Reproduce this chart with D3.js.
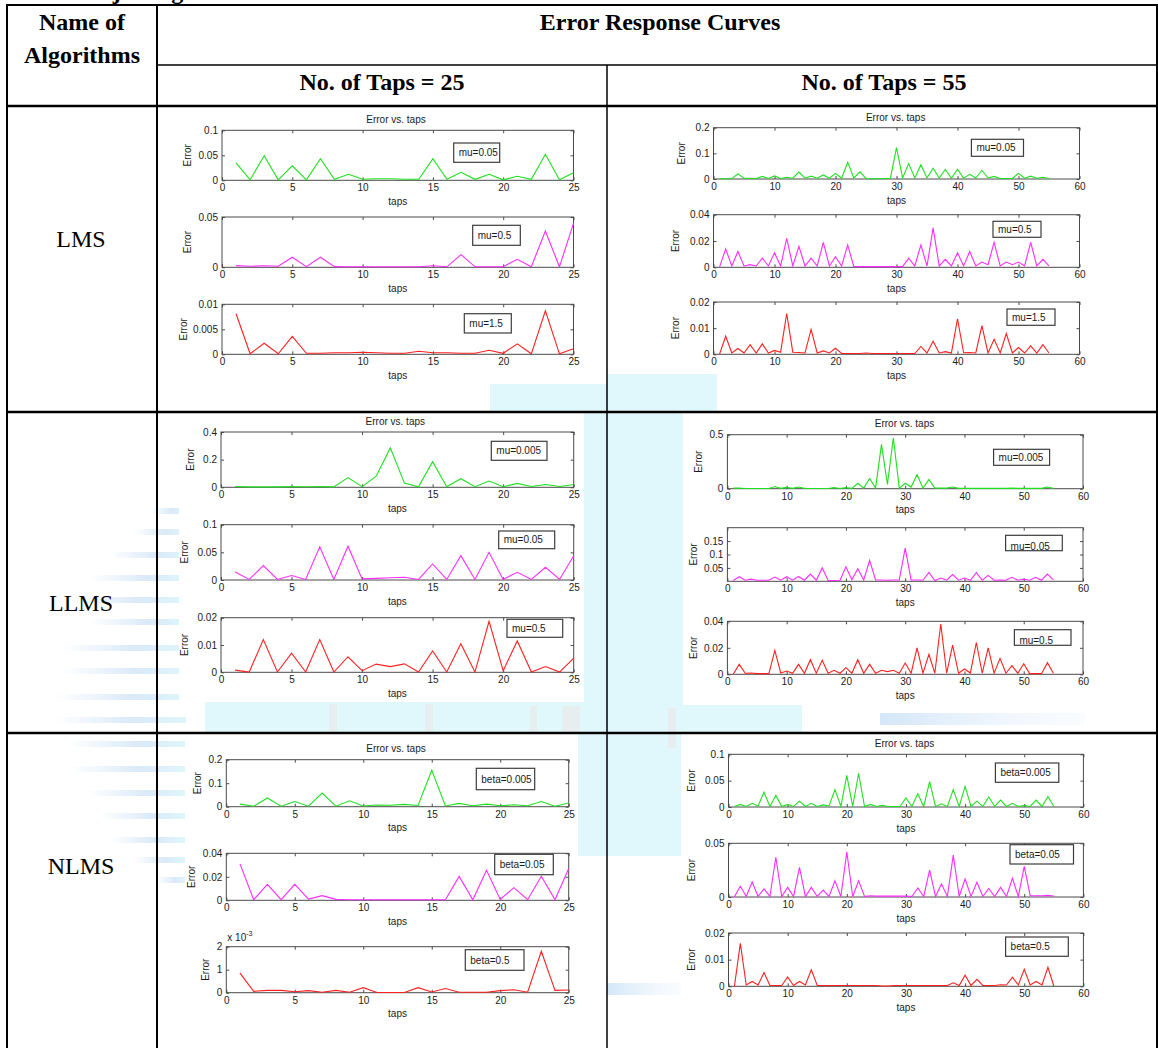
<!DOCTYPE html>
<html>
<head>
<meta charset="utf-8">
<script src="https://cdn.jsdelivr.net/npm/d3@7"></script>
<style>
  body { margin: 0; background: #fff; }
  .tbl { font-family: "Liberation Serif", "Times New Roman", serif; fill: #000; }
  .plt text { font-family: "Liberation Sans", Arial, sans-serif; font-size: 10px; fill: #1a1a1a; }
</style>
</head>
<body>
<svg id="page" width="1158" height="1048"></svg>
<script>
// ---- table text ----
var algorithms = ["LMS", "LLMS", "NLMS"];
var tapCounts = [25, 55];

// ---- legend labels ----
var muLabelsLMS = ["mu=0.05", "mu=0.5", "mu=1.5"];
var muLabelsLLMS = ["mu=0.005", "mu=0.05", "mu=0.5"];
var betaLabelsNLMS = ["beta=0.005", "beta=0.05", "beta=0.5"];

// ---- x axis ----
var xMax = [25, 60];
var xTicks25 = [0, 5, 10, 15, 20, 25];
var xTicks55 = [0, 10, 20, 30, 40, 50, 60];

// ---- y axis limits / ticks ----
var yMaxLMS25 = [0.1, 0.05, 0.01];
var yTicksLMS25 = [[0, 0.05, 0.1], [0, 0.05], [0, 0.005, 0.01]];
var yMaxLMS55 = [0.2, 0.04, 0.02];
var yTicksLMS55 = [[0, 0.1, 0.2], [0, 0.02, 0.04], [0, 0.01, 0.02]];
var yMaxLLMS25 = [0.4, 0.1, 0.02];
var yTicksLLMS25 = [[0, 0.2, 0.4], [0, 0.05, 0.1], [0, 0.01, 0.02]];
var yMaxLLMS55 = [0.5, 0.2, 0.04];
var yTicksLLMS55 = [[0, 0.5], [0.05, 0.1, 0.15], [0, 0.02, 0.04]];
var yMaxNLMS25 = [0.2, 0.04, 0.002];
var yTicksNLMS25 = [[0, 0.1, 0.2], [0, 0.02, 0.04], [0, 0.001, 0.002]];
var yMaxNLMS55 = [0.1, 0.05, 0.02];
var yTicksNLMS55 = [[0, 0.05, 0.1], [0, 0.05], [0, 0.01, 0.02]];

// ---- error per tap ----
var lms25_mu005 = [0.035,0.001,0.049,0.001,0.029,0.001,0.043,0.002,0.012,0.002,0.003,0.003,0.002,0.002,0.043,0.002,0.016,0.002,0.012,0.001,0.008,0.002,0.052,0.001,0.015];
var lms25_mu05 = [0.0017,0.001,0.0015,0.001,0.010,0.0007,0.010,0.0007,0.0005,0.0005,0.0005,0.0005,0.0005,0.0005,0.0015,0.0005,0.0126,0.0005,0.0005,0.0005,0.008,0.0005,0.036,0.0005,0.0437];
var lms25_mu15 = [0.0081,0.0001,0.0022,0.0001,0.0036,0.0002,0.0002,0.0003,0.0003,0.0004,0.0003,0.0002,0.0002,0.0006,0.0003,0.0003,0.0002,0.0002,0.0008,0.0002,0.0021,0.0001,0.0087,0.0001,0.0011];

var lms55_mu005 = [0.001,0.001,0.001,0.02,0.003,0.003,0.002,0.01,0.002,0.012,
  0.002,0.007,0.003,0.027,0.003,0.011,0.003,0.016,0.003,0.022,
  0.003,0.065,0.004,0.028,0.002,0.001,0.001,0.002,0.003,0.122,
  0.004,0.06,0.004,0.055,0.004,0.042,0.004,0.037,0.003,0.038,
  0.003,0.018,0.004,0.034,0.004,0.01,0.002,0.002,0.002,0.022,
  0.003,0.011,0.003,0.007,0.002];
var lms55_mu05 = [0.0003,0.014,0.001,0.012,0.001,0.002,0.001,0.007,0.001,0.011,
  0.001,0.022,0.001,0.016,0.001,0.007,0.001,0.019,0.001,0.008,
  0.001,0.017,0.0005,0.0005,0.0005,0.0005,0.0005,0.0005,0.0005,0.0005,
  0.0005,0.007,0.001,0.017,0.001,0.030,0.001,0.006,0.001,0.011,
  0.001,0.012,0.001,0.004,0.002,0.019,0.001,0.004,0.002,0.004,
  0.001,0.019,0.001,0.006,0.001];
var lms55_mu15 = [0.0001,0.0069,0.0005,0.0022,0.0005,0.0037,0.0005,0.004,0.0005,0.0015,
  0.0008,0.0156,0.0008,0.0007,0.0005,0.0095,0.0005,0.0013,0.0005,0.0023,
  0.0003,0.0003,0.0003,0.0003,0.0005,0.0003,0.0003,0.0003,0.0003,0.0003,
  0.0003,0.0003,0.0003,0.003,0.0005,0.005,0.0005,0.001,0.0005,0.0136,
  0.0006,0.0007,0.0005,0.011,0.0005,0.0057,0.0005,0.0079,0.0005,0.0026,
  0.0005,0.0032,0.0005,0.0037,0.0005];

var llms25_mu0005 = [0.006,0.003,0.003,0.003,0.005,0.004,0.006,0.003,0.07,0.005,0.08,0.285,0.03,0.004,0.185,0.004,0.062,0.004,0.045,0.004,0.028,0.006,0.02,0.006,0.02];
var llms25_mu005 = [0.0145,0.001,0.026,0.001,0.008,0.001,0.06,0.001,0.061,0.002,0.003,0.004,0.005,0.001,0.029,0.001,0.044,0.001,0.05,0.001,0.014,0.001,0.023,0.001,0.044];
var llms25_mu05 = [0.0008,0.0001,0.012,0.0001,0.007,0.0001,0.012,0.0001,0.0057,0.0006,0.003,0.0021,0.0031,0.0001,0.0078,0.0001,0.0105,0.0001,0.0187,0.0006,0.0115,0.0001,0.0021,0.0001,0.0052];

var llms55_mu0005 = [0.005,0.006,0.002,0.002,0.002,0.002,0.002,0.02,0.003,0.012,
  0.003,0.015,0.003,0.002,0.002,0.002,0.002,0.01,0.002,0.01,
  0.003,0.05,0.005,0.095,0.005,0.41,0.04,0.47,0.005,0.05,
  0.015,0.13,0.005,0.085,0.005,0.007,0.005,0.015,0.003,0.003,
  0.003,0.003,0.003,0.004,0.003,0.003,0.003,0.005,0.003,0.003,
  0.003,0.003,0.003,0.015,0.003];
var llms55_mu005 = [0.003,0.017,0.004,0.008,0.004,0.004,0.004,0.016,0.004,0.017,
  0.004,0.018,0.004,0.027,0.004,0.05,0.003,0.003,0.004,0.054,
  0.006,0.047,0.005,0.078,0.005,0.005,0.004,0.005,0.005,0.124,
  0.005,0.005,0.004,0.033,0.003,0.012,0.004,0.025,0.004,0.012,
  0.004,0.032,0.004,0.022,0.004,0.005,0.004,0.015,0.004,0.008,
  0.004,0.015,0.004,0.027,0.005];
var llms55_mu05 = [0.0002,0.0075,0.0008,0.001,0.0005,0.0005,0.0005,0.018,0.001,0.0025,
  0.0008,0.0075,0.0008,0.011,0.0008,0.0105,0.0008,0.003,0.0008,0.005,
  0.0008,0.011,0.0008,0.0075,0.0008,0.003,0.002,0.003,0.0008,0.0085,
  0.0008,0.02,0.0008,0.015,0.0008,0.038,0.0008,0.022,0.0008,0.004,
  0.001,0.024,0.0008,0.02,0.0008,0.012,0.0008,0.0065,0.0008,0.008,
  0.0005,0.0005,0.0005,0.0088,0.0008];

var nlms25_b0005 = [0.011,0.002,0.037,0.002,0.022,0.002,0.058,0.002,0.025,0.003,0.007,0.006,0.01,0.005,0.155,0.003,0.014,0.004,0.011,0.004,0.008,0.004,0.022,0.002,0.016];
var nlms25_b005 = [0.031,0.0005,0.0136,0.0005,0.0136,0.001,0.004,0.0008,0.0005,0.0005,0.0005,0.0005,0.0005,0.0005,0.0005,0.0005,0.0203,0.0005,0.0255,0.0008,0.0108,0.0005,0.0204,0.0005,0.027];
var nlms25_b05 = [0.00085,0.00006,0.0001,0.0001,0.00004,0.00009,0.00002,0.0001,0.00002,0.00022,0.00001,0.00001,0.00001,0.00022,0.00003,0.00018,0.00002,0.00002,0.00002,0.00009,0.00013,0.00002,0.0018,0.0001,0.00012];

var nlms55_b0005 = [0.001,0.005,0.001,0.007,0.002,0.028,0.001,0.022,0.001,0.005,
  0.001,0.011,0.001,0.007,0.001,0.004,0.002,0.033,0.001,0.06,
  0.001,0.064,0.001,0.005,0.001,0.003,0.001,0.001,0.001,0.017,
  0.001,0.025,0.001,0.048,0.001,0.006,0.001,0.033,0.001,0.039,
  0.001,0.011,0.001,0.019,0.001,0.013,0.001,0.007,0.001,0.003,
  0.001,0.013,0.001,0.02,0.001];
var nlms55_b005 = [0.0003,0.01,0.0005,0.014,0.0005,0.0075,0.0005,0.037,0.0005,0.009,
  0.0005,0.0276,0.0005,0.009,0.0005,0.0065,0.0005,0.015,0.0005,0.042,
  0.0005,0.015,0.0005,0.0012,0.0008,0.0008,0.0008,0.0008,0.0008,0.0008,
  0.0005,0.0084,0.0005,0.025,0.0005,0.012,0.0005,0.039,0.0005,0.0168,
  0.0005,0.0137,0.0005,0.008,0.0005,0.009,0.0005,0.0174,0.0005,0.0286,
  0.0012,0.0012,0.0012,0.0015,0.001];
var nlms55_b05 = [0,0.0161,0.0005,0.0018,0.0005,0.0052,0.0003,0.0003,0.0003,0.0035,
  0.0003,0.0018,0.0005,0.0062,0.0003,0.0003,0.0003,0.0003,0.0003,0.0003,
  0.0003,0.0003,0.0003,0.0003,0.0003,0.0001,0.0001,0.0003,0.0003,0.0003,
  0.0003,0.0003,0.0003,0.0003,0.0003,0.0003,0.0003,0.0013,0.0003,0.0042,
  0.0003,0.0026,0.0003,0.0003,0.0003,0.0006,0.0005,0.0034,0.0005,0.0064,
  0.0005,0.0018,0.0005,0.0071,0.0001];

var lineColors = ["#1fe01f", "#ff2cff", "#ff2020"];

// one entry per table cell: which data goes where
var cells = [
  {row: 0, col: 0, series: [lms25_mu005, lms25_mu05, lms25_mu15], labels: muLabelsLMS, yMax: yMaxLMS25, yTicks: yTicksLMS25},
  {row: 0, col: 1, series: [lms55_mu005, lms55_mu05, lms55_mu15], labels: muLabelsLMS, yMax: yMaxLMS55, yTicks: yTicksLMS55},
  {row: 1, col: 0, series: [llms25_mu0005, llms25_mu005, llms25_mu05], labels: muLabelsLLMS, yMax: yMaxLLMS25, yTicks: yTicksLLMS25},
  {row: 1, col: 1, series: [llms55_mu0005, llms55_mu005, llms55_mu05], labels: muLabelsLLMS, yMax: yMaxLLMS55, yTicks: yTicksLLMS55},
  {row: 2, col: 0, series: [nlms25_b0005, nlms25_b005, nlms25_b05], labels: betaLabelsNLMS, yMax: yMaxNLMS25, yTicks: yTicksNLMS25, exp3: true},
  {row: 2, col: 1, series: [nlms55_b0005, nlms55_b005, nlms55_b05], labels: betaLabelsNLMS, yMax: yMaxNLMS55, yTicks: yTicksNLMS55}
];

// figure geometry inside each cell (pixels)
var layout = [
  {title: [396, 119], fig: [160, 108, 430, 276], xr: [222, 573.5], plots: [
    {y: [130.3, 180.3], lg: [453.7, 143, 46, 19.3], ex: 187.7},
    {y: [217, 267.3], lg: [472.7, 225.3, 47.6, 20], ex: 187.7},
    {y: [304.3, 354.3], lg: [464.3, 313.7, 47, 19.3], ex: 183}]},
  {title: [895.7, 117], fig: [607, 108, 550, 266], xr: [713.5, 1079.5], plots: [
    {y: [127.7, 179], lg: [971.4, 139.3, 52.1, 17], ex: 681.6},
    {y: [214.7, 267.3], lg: [993, 221.3, 48, 16], ex: 675.7},
    {y: [302, 354.3], lg: [1007, 309, 48, 16.3], ex: 675.7}]},
  {title: [395.3, 421], fig: [179, 413, 405, 289], xr: [221, 573.7], plots: [
    {y: [432, 487.3], lg: [491.3, 441.3, 55.7, 19], ex: 190.3},
    {y: [524.7, 580], lg: [498.7, 531, 56, 17.7], ex: 184.3},
    {y: [617.7, 672.3], lg: [507, 619.3, 55.7, 18], ex: 184.3}]},
  {title: [904.5, 423], fig: [683, 413, 474, 292], xr: [727.4, 1083], plots: [
    {y: [434.7, 488.7], lg: [993.6, 449.3, 56, 16], ex: 698.5},
    {y: [527.7, 581.3], lg: [1005.6, 535.3, 56.7, 15.4], ex: 693, low: true},
    {y: [621.3, 674.3], lg: [1014.4, 629.7, 56.6, 15.6], ex: 693, low: true}]},
  {title: [396, 748.7], fig: [185, 734, 393, 314], xr: [226.3, 568.7], plots: [
    {y: [759.7, 806.7], lg: [476.3, 768.3, 58.4, 21.4], ex: 197},
    {y: [853.3, 900.3], lg: [494.7, 854.3, 58.6, 20.4], ex: 191.3},
    {y: [946.7, 992.7], lg: [465.3, 949.7, 58.7, 20.6], ex: 205.3}]},
  {title: [904.5, 743.7], fig: [681, 734, 476, 314], xr: [728.5, 1083.4], plots: [
    {y: [754.3, 807], lg: [995.4, 763, 63.4, 19.3], ex: 691.5},
    {y: [843.3, 897], lg: [1010, 844.7, 63.5, 19.3], ex: 691.5},
    {y: [933, 986.3], lg: [1005.6, 937, 62.7, 19.3], ex: 691.5}]}
];

var svg = d3.select("#page");

// ---- faint watermark behind the table ----
var defs = svg.append("defs");
var grad = defs.append("linearGradient").attr("id", "stripe").attr("x1", "0").attr("x2", "1");
grad.append("stop").attr("offset", "0").attr("stop-color", "#cfe3f6").attr("stop-opacity", 0);
grad.append("stop").attr("offset", "0.6").attr("stop-color", "#cfe3f6").attr("stop-opacity", 0.9);
grad.append("stop").attr("offset", "1").attr("stop-color", "#d9f5fb").attr("stop-opacity", 1);
var grad2 = defs.append("linearGradient").attr("id", "bar").attr("x1", "0").attr("x2", "1");
grad2.append("stop").attr("offset", "0").attr("stop-color", "#d4e6f8");
grad2.append("stop").attr("offset", "1").attr("stop-color", "#eef6fd").attr("stop-opacity", 0.3);

var wm = svg.append("g");
var stripes = [[508,150],[529,133],[552,110],[575,90],[597,70],[619,90],[645,62],[668,62],[694,55],[717,55],
               [741,67],[766,70],[790,87],[813,100],[837,110],[857,133],[877,157]];
stripes.forEach(function (s) {
    wm.append("rect").attr("x", s[1]).attr("y", s[0]).attr("width", 186 - s[1]).attr("height", 6)
        .attr("fill", "url(#stripe)").attr("opacity", 0.85);
});
var cyan = "#dbf7fb";
[[490, 384, 117, 28], [607, 374, 110, 38], [584, 413, 23, 290], [607, 413, 76, 292],
 [205, 702, 402, 31], [607, 705, 195, 28], [578, 734, 29, 122], [607, 734, 74, 122]].forEach(function (r) {
    wm.append("rect").attr("x", r[0]).attr("y", r[1]).attr("width", r[2]).attr("height", r[3])
        .attr("fill", cyan).attr("opacity", 0.85);
});
[[329, 704, 8, 29], [425, 704, 8, 29], [530, 706, 7, 27], [562, 706, 18, 27], [668, 708, 8, 40]].forEach(function (r) {
    wm.append("rect").attr("x", r[0]).attr("y", r[1]).attr("width", r[2]).attr("height", r[3])
        .attr("fill", "#e6eef0");
});
wm.append("rect").attr("x", 880).attr("y", 713).attr("width", 205).attr("height", 12).attr("fill", "url(#bar)");
wm.append("rect").attr("x", 607).attr("y", 983).attr("width", 76).attr("height", 12).attr("fill", "url(#bar)");

// white figure backgrounds
layout.forEach(function (L) {
    svg.append("rect").attr("x", L.fig[0]).attr("y", L.fig[1]).attr("width", L.fig[2]).attr("height", L.fig[3])
        .attr("fill", "#fff");
});

// ---- table text ----
var tbl = svg.append("g").attr("class", "tbl");
tbl.append("text").attr("x", 82).attr("y", -1).attr("font-size", 24).attr("font-weight", "bold").text("Adjusting");
tbl.append("text").attr("x", 82).attr("y", 30).attr("text-anchor", "middle").attr("font-size", 24).attr("font-weight", "bold").text("Name of");
tbl.append("text").attr("x", 82).attr("y", 63).attr("text-anchor", "middle").attr("font-size", 24).attr("font-weight", "bold").text("Algorithms");
tbl.append("text").attr("x", 660).attr("y", 30).attr("text-anchor", "middle").attr("font-size", 24).attr("font-weight", "bold").text("Error Response Curves");
var colCenters = [382, 884];
tapCounts.forEach(function (t, i) {
    tbl.append("text").attr("x", colCenters[i]).attr("y", 90).attr("text-anchor", "middle")
        .attr("font-size", 24).attr("font-weight", "bold").text("No. of Taps = " + t);
});
var rowCenters = [239, 603, 866];
algorithms.forEach(function (a, i) {
    tbl.append("text").attr("x", 81).attr("y", rowCenters[i] + 8).attr("text-anchor", "middle")
        .attr("font-size", 24).text(a);
});

// ---- the subplots ----
function fmtTick(v, scale) {
    return String(+(v / scale).toFixed(5));
}

function drawPlot(g, box, values, yMax, yTicks, xm, xTicks, color, label, lg, ex, low, scale) {
    var x0 = box.x0, x1 = box.x1, y0 = box.y0, y1 = box.y1;
    var x = d3.scaleLinear().domain([0, xm]).range([x0, x1]);
    var y = d3.scaleLinear().domain([0, yMax]).range([y1, y0]);

    var axisCol = "#4a4a4a";

    var bottom = g.append("g").attr("transform", "translate(0," + y1 + ")")
        .call(d3.axisBottom(x).tickValues(xTicks).tickSizeInner(-3).tickSizeOuter(0).tickPadding(4));
    var top = g.append("g").attr("transform", "translate(0," + y0 + ")")
        .call(d3.axisTop(x).tickValues(xTicks).tickSizeInner(-3).tickSizeOuter(0).tickFormat(""));
    var left = g.append("g").attr("transform", "translate(" + x0 + ",0)")
        .call(d3.axisLeft(y).tickValues(yTicks).tickSizeInner(-3).tickSizeOuter(0).tickPadding(4)
            .tickFormat(function (d) { return fmtTick(d, scale); }));
    var right = g.append("g").attr("transform", "translate(" + x1 + ",0)")
        .call(d3.axisRight(y).tickValues(yTicks).tickSizeInner(-3).tickSizeOuter(0).tickFormat(""));
    [bottom, top, left, right].forEach(function (a) {
        a.select(".domain").remove();
        a.selectAll("line").attr("stroke", axisCol);
        a.selectAll("text").attr("fill", "#1a1a1a").attr("font-family", null).attr("font-size", null);
    });

    g.append("rect").attr("x", x0).attr("y", y0).attr("width", x1 - x0).attr("height", y1 - y0)
        .attr("fill", "none").attr("stroke", axisCol).attr("stroke-width", 1);

    var line = d3.line()
        .x(function (d, i) { return x(i + 1); })
        .y(function (d) { return y(d); });
    g.append("path").datum(values).attr("d", line)
        .attr("fill", "none").attr("stroke", color).attr("stroke-width", 1.1).attr("stroke-linejoin", "miter");

    // legend
    g.append("rect").attr("x", lg[0]).attr("y", lg[1]).attr("width", lg[2]).attr("height", lg[3])
        .attr("fill", "#fff").attr("stroke", "#3c3c3c").attr("stroke-width", 1.2);
    g.append("text").attr("x", lg[0] + 5).attr("y", lg[1] + lg[3] / 2 + (low ? 6.5 : 3.6)).text(label);

    g.append("text").attr("transform", "translate(" + ex + "," + ((y0 + y1) / 2) + ") rotate(-90)")
        .attr("text-anchor", "middle").attr("dy", "0.35em").text("Error");
    g.append("text").attr("x", (x0 + x1) / 2).attr("y", y1 + 24.5).attr("text-anchor", "middle").text("taps");
}

cells.forEach(function (c, ci) {
    var L = layout[ci];
    var g = svg.append("g").attr("class", "plt");
    g.append("text").attr("x", L.title[0]).attr("y", L.title[1] + 3.5).attr("text-anchor", "middle").text("Error vs. taps");
    var xm = xMax[c.col];
    var xt = c.col === 0 ? xTicks25 : xTicks55;
    c.series.forEach(function (s, k) {
        var P = L.plots[k];
        var box = {x0: L.xr[0], x1: L.xr[1], y0: P.y[0], y1: P.y[1]};
        var scale = (c.exp3 && k === 2) ? 0.001 : 1;
        drawPlot(g, box, s, c.yMax[k], c.yTicks[k], xm, xt, lineColors[k], c.labels[k], P.lg, P.ex, P.low, scale);
        if (scale !== 1) {
            var t = g.append("text").attr("x", box.x0 + 1).attr("y", box.y0 - 6);
            t.append("tspan").text("x 10");
            t.append("tspan").attr("dy", -5).attr("font-size", 7).text("-3");
        }
    });
});

// ---- table frame, drawn last so the rules stay on top ----
var frame = svg.append("g").attr("stroke", "#000").attr("fill", "none");
function hline(y, xa, xb, w) { frame.append("line").attr("x1", xa).attr("x2", xb).attr("y1", y).attr("y2", y).attr("stroke-width", w); }
function vline(x, ya, yb, w) { frame.append("line").attr("x1", x).attr("x2", x).attr("y1", ya).attr("y2", yb).attr("stroke-width", w); }
hline(5, 6, 1158, 2);
hline(65, 157, 1158, 1.6);
hline(106, 6, 1158, 2.4);
hline(412, 6, 1158, 2.4);
hline(733, 6, 1158, 2.4);
vline(7, 4, 1048, 2);
vline(157, 4, 1048, 2);
vline(607, 65, 1048, 1.5);
vline(1157, 4, 1048, 2);
</script>
</body>
</html>
